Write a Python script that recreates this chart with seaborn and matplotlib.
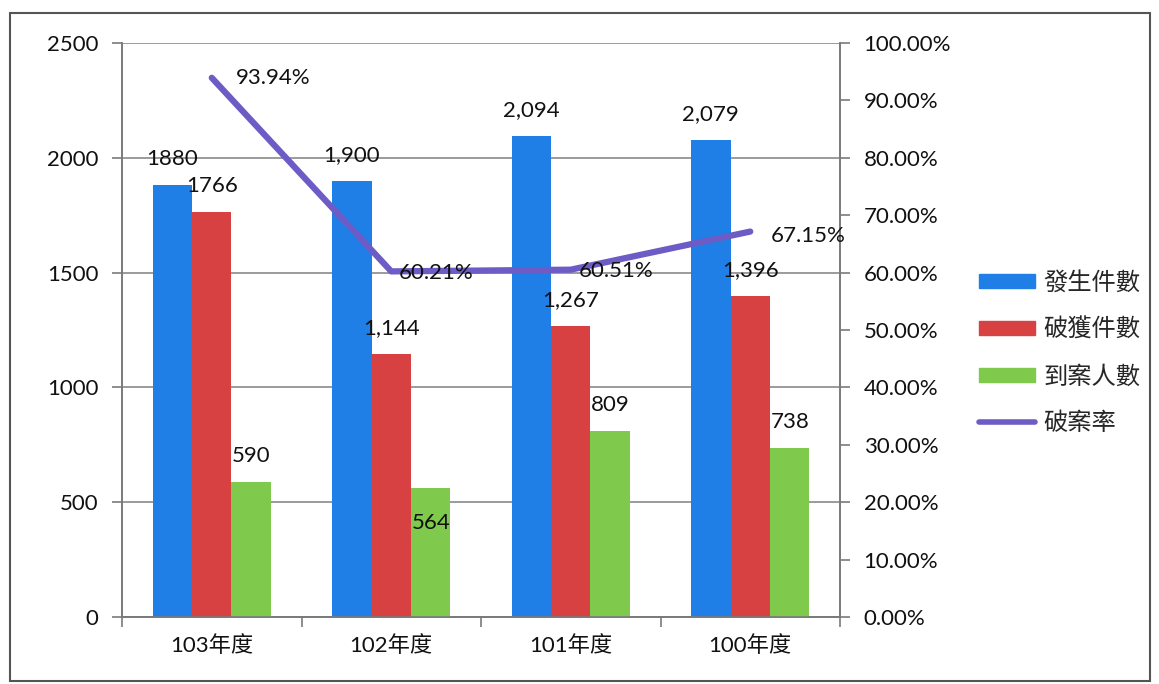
import pandas as pd
import seaborn as sns
import matplotlib.pyplot as plt
import matplotlib.ticker as ticker
from matplotlib.lines import Line2D
from matplotlib.patches import Rectangle

years = ['103年度', '102年度', '101年度', '100年度']
occurred = [1880, 1900, 2094, 2079]
solved = [1766, 1144, 1267, 1396]
arrested = [590, 564, 809, 738]
rate = [93.94, 60.21, 60.51, 67.15]

occurred_labels = ['1880', '1,900', '2,094', '2,079']
solved_labels = ['1766', '1,144', '1,267', '1,396']
arrested_labels = ['590', '564', '809', '738']
rate_labels = ['93.94%', '60.21%', '60.51%', '67.15%']

series_names = ['發生件數', '破獲件數', '到案人數']
line_name = '破案率'
my_palette = {'發生件數': '#1f7fe6', '破獲件數': '#d84141', '到案人數': '#7fc94c'}
line_color = '#6d5bc6'

df = pd.DataFrame({
    'year': years * 3,
    'series': [series_names[0]] * 4 + [series_names[1]] * 4 + [series_names[2]] * 4,
    'value': occurred + solved + arrested,
})
df_rate = pd.DataFrame({'year': years, 'rate': rate})

sns.set_style('white')
plt.rcParams['font.family'] = ['Lato', 'Noto Sans CJK TC', 'DejaVu Sans']

fig = plt.figure(figsize=(11.59, 6.84), dpi=100)
ax = fig.add_axes([122 / 1159, 67 / 684, 718 / 1159, 574 / 684])
ax2 = ax.twinx()

sns.barplot(data=df, x='year', y='value', hue='series', order=years,
            hue_order=series_names, palette=my_palette, width=0.66,
            saturation=1, linewidth=0, edgecolor='none', ax=ax, zorder=3)
ax.legend_.remove()

sns.pointplot(data=df_rate, x='year', y='rate', order=years, color=line_color,
              markers='', linestyles='-', linewidth=4.5, ax=ax2, errorbar=None)

ax.set_ylim(0, 2500)
ax.set_yticks([0, 500, 1000, 1500, 2000, 2500])
ax2.set_ylim(0, 100)
ax2.set_yticks(range(0, 101, 10))
ax2.yaxis.set_major_formatter(ticker.FuncFormatter(lambda v, p: f'{v:.2f}%'))
ax.set_xlim(-0.5, 3.5)

ax.set_xlabel('')
ax.set_ylabel('')
ax2.set_ylabel('')
ax.grid(axis='y', color='#8a8a8a', linewidth=1.2, zorder=0)
ax.set_axisbelow(True)

for a in (ax, ax2):
    for side in a.spines:
        a.spines[side].set_color('#7a7a7a')
        a.spines[side].set_linewidth(1.2)
    a.spines['top'].set_visible(False)

ax.tick_params(axis='y', direction='out', length=7, width=1.2, color='#7a7a7a',
               labelsize=16, pad=10, left=True, labelcolor='#111111')
ax2.tick_params(axis='y', direction='out', length=7, width=1.2, color='#7a7a7a',
                labelsize=16, pad=10, right=True, labelcolor='#111111')
ax.set_xticks(range(4))
ax.set_xticklabels(years)
ax.tick_params(axis='x', length=0, labelsize=16, pad=13, labelcolor='#111111')
ax.set_xticks([-0.5, 0.5, 1.5, 2.5, 3.5], minor=True)
ax.tick_params(axis='x', which='minor', direction='out', length=7, width=1.2,
               color='#7a7a7a', bottom=True)

# bar labels
offsets = [-0.22, 0.0, 0.22]
all_vals = [occurred, solved, arrested]
all_labels = [occurred_labels, solved_labels, arrested_labels]
for s in range(3):
    for i in range(4):
        dy = 26
        if s == 2 and i == 1:
            dy = -35
        ax.annotate(all_labels[s][i], (i + offsets[s], all_vals[s][i]),
                    xytext=(0, dy), textcoords='offset pixels', ha='center',
                    va='center', fontsize=16, color='#111111', zorder=5)

rate_offsets = [(24, 0), (7, -2), (8, -1), (21, -4)]
for i in range(4):
    ax2.annotate(rate_labels[i], (i, rate[i]), xytext=rate_offsets[i],
                 textcoords='offset pixels', ha='left', va='center',
                 fontsize=16, color='#111111', zorder=5)

handles = [Rectangle((0, 0), 1, 1, color=my_palette[n]) for n in series_names]
handles.append(Line2D([0], [0], color=line_color, linewidth=4))
fig.legend(handles, series_names + [line_name], loc='upper left',
           bbox_to_anchor=(962 / 1159, 1 - 254 / 684), frameon=False,
           fontsize=17.5, handlelength=2.3, handleheight=0.5,
           handletextpad=0.35, labelspacing=0.98, borderpad=0.2)

fig.patches.append(Rectangle((10 / 1159, 0.004), 1140 / 1159, (670 - 2) / 684,
                             transform=fig.transFigure, fill=False,
                             edgecolor='#555555', linewidth=1.5))

plt.savefig('out.png', dpi=100)
